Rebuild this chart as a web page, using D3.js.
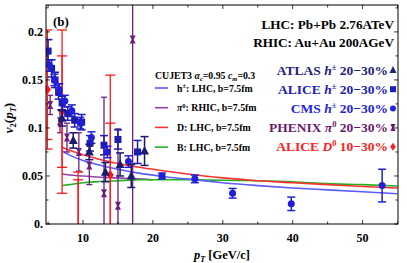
<!DOCTYPE html>
<html>
<head>
<meta charset="utf-8">
<script src="https://cdn.jsdelivr.net/npm/d3@7"></script>
<style>
  body { margin: 0; background: #fff; }
  text { font-family: "Liberation Serif", "DejaVu Serif", serif; font-weight: bold; }
</style>
</head>
<body>
<div id="chart"></div>
<script>
// ---- data ----
const curvePt = [7, 8, 10, 12, 15, 18, 22, 26, 30, 35, 40, 45, 50, 55];
const hLHC  = [0.076, 0.072, 0.066, 0.062, 0.057, 0.053, 0.049, 0.046, 0.043, 0.040, 0.0375, 0.0355, 0.0335, 0.0315];
const dLHC  = [0.080, 0.077, 0.072, 0.068, 0.063, 0.059, 0.055, 0.051, 0.048, 0.045, 0.043, 0.041, 0.039, 0.0375];
const bLHC  = [0.040, 0.041, 0.043, 0.044, 0.045, 0.046, 0.046, 0.046, 0.0455, 0.045, 0.044, 0.042, 0.041, 0.0395];
const piPt  = [7, 8, 10, 12, 15, 18, 20];
const piRHIC = [0.052, 0.051, 0.050, 0.049, 0.048, 0.047, 0.046];

const alicePt  = [5.0, 5.5, 6.0, 6.5, 7.0, 7.8, 8.8, 9.8, 11.0, 13.0, 15.0, 17.8];
const aliceV2  = [0.18, 0.162, 0.15, 0.138, 0.126, 0.115, 0.108, 0.106, 0.084, 0.082, 0.088, 0.075];
const aliceErr = [0.012, 0.009, 0.008, 0.008, 0.007, 0.007, 0.007, 0.008, 0.008, 0.010, 0.010, 0.012];

const cmsPt  = [5.2, 5.9, 6.6, 7.4, 8.4, 9.6, 11.2, 13.5, 16.5, 21.3, 26.0, 31.4, 39.8, 52.8];
const cmsV2  = [0.165, 0.15, 0.14, 0.128, 0.118, 0.105, 0.09, 0.075, 0.065, 0.05, 0.047, 0.032, 0.021, 0.040];
const cmsErr = [0.006, 0.006, 0.006, 0.006, 0.006, 0.006, 0.006, 0.006, 0.006, 0.003, 0.004, 0.005, 0.007, 0.017];

const atlasPt  = [7.0, 8.6, 10.9, 13.2, 15.3, 16.9, 18.8];
const atlasV2  = [0.11, 0.087, 0.075, 0.054, 0.062, 0.05, 0.076];
const atlasErr = [0.008, 0.008, 0.008, 0.010, 0.012, 0.012, 0.015];

const phenixPt  = [5.3, 6.7, 7.7, 9.4, 10.9, 13.0, 15.0, 17.1];
const phenixV2  = [0.124, 0.107, 0.09, 0.075, 0.061, 0.032, 0.019, 0.192];
const phenixErr = [0.010, 0.012, 0.015, 0.020, 0.020, 0.10, 0.08, 0.25];

const d0Pt   = [4.9, 7.0, 9.3, 13.9];
const d0V2   = [0.14, 0.117, -0.01, 0.051];
const d0Stat = [0.052, 0.058, 0.056, 0.054];
const d0Sys  = [0.062, 0.085, 0.064, 0.104];

const xTicks = [10, 20, 30, 40, 50];
const yTicks = [0, 0.05, 0.1, 0.15, 0.2];
const yTickLabels = ["0.", "0.05", "0.1", "0.15", "0.2"];

// ---- layout ----
const W = 407, H = 263;
const L = 46, R = 398, T = 5, B = 224;

const svg = d3.select("#chart").append("svg")
    .attr("width", W).attr("height", H);

const x = d3.scaleLinear().domain([4.7, 55.07]).range([L, R]);
const y = d3.scaleLinear().domain([0, 0.228]).range([B, T]);

svg.append("clipPath").attr("id", "plotclip")
    .append("rect").attr("x", L).attr("y", T).attr("width", R - L).attr("height", B - T);

const plot = svg.append("g").attr("clip-path", "url(#plotclip)");

// ticks (inside, on all four sides)
const xMinor = d3.range(5, 56, 5);
const yMinor = d3.range(0, 0.23, 0.025);
const tickG = svg.append("g").attr("stroke", "#000").attr("stroke-width", 0.8);
xMinor.forEach(v => {
    const len = (v % 10 === 0) ? 4 : 2.5;
    tickG.append("line").attr("x1", x(v)).attr("x2", x(v)).attr("y1", B).attr("y2", B - len);
    tickG.append("line").attr("x1", x(v)).attr("x2", x(v)).attr("y1", T).attr("y2", T + len);
});
yMinor.forEach((v, i) => {
    const len = (i % 2 === 0) ? 4 : 2.5;
    tickG.append("line").attr("y1", y(v)).attr("y2", y(v)).attr("x1", L).attr("x2", L + len);
    tickG.append("line").attr("y1", y(v)).attr("y2", y(v)).attr("x1", R).attr("x2", R - len);
});

// curves
const line = d3.line().x(d => x(d[0])).y(d => y(d[1])).curve(d3.curveMonotoneX);
function drawCurve(pts, vals, color) {
    plot.append("path")
        .datum(pts.map((p, i) => [p, vals[i]]))
        .attr("d", line)
        .attr("fill", "none")
        .attr("stroke", color)
        .attr("stroke-width", 1.6);
}
drawCurve(piPt, piRHIC, "#9a3fa8");
drawCurve(curvePt, bLHC, "#22b022");
drawCurve(curvePt, dLHC, "#ff3030");
drawCurve(curvePt, hLHC, "#5b5bff");

// error bars with caps
function errBar(g, px, lo, hi, cap, color, w) {
    const cx = x(px);
    g.append("line").attr("x1", cx).attr("x2", cx).attr("y1", y(lo)).attr("y2", y(hi))
        .attr("stroke", color).attr("stroke-width", w);
    [lo, hi].forEach(v => {
        g.append("line").attr("x1", cx - cap).attr("x2", cx + cap).attr("y1", y(v)).attr("y2", y(v))
            .attr("stroke", color).attr("stroke-width", w);
    });
}

const purple = "#6e1f7e", red = "#ff1a1a";
const navy = "#1a1a70", aliceBlue = "#1c1cb0", cmsBlue = "#2020d8";

// PHENIX pi0
phenixPt.forEach((p, i) => {
    errBar(plot, p, phenixV2[i] - phenixErr[i], phenixV2[i] + phenixErr[i], 3, purple, 1.3);
});
const bowtie = "M-3,-4L3,-4L1,0L3,4L-3,4L-1,0Z";
plot.selectAll(".phx").data(phenixPt).enter().append("path")
    .attr("d", bowtie)
    .attr("transform", (d, i) => `translate(${x(d)},${y(phenixV2[i])})`)
    .attr("fill", purple);

// D0
d0Pt.forEach((p, i) => {
    errBar(plot, p, d0V2[i] - d0Sys[i], d0V2[i] + d0Sys[i], 5, red, 1.3);
    errBar(plot, p, d0V2[i] - d0Stat[i], d0V2[i] + d0Stat[i], 5, red, 1.3);
});
plot.selectAll(".d0").data(d0Pt).enter().append("path")
    .attr("d", "M0,-5L3.5,0L0,5L-3.5,0Z")
    .attr("transform", (d, i) => `translate(${x(d)},${y(d0V2[i])})`)
    .attr("fill", red);

// ALICE squares
alicePt.forEach((p, i) => {
    errBar(plot, p, aliceV2[i] - aliceErr[i], aliceV2[i] + aliceErr[i], 4, aliceBlue, 1.5);
});
plot.selectAll(".al").data(alicePt).enter().append("rect")
    .attr("x", d => x(d) - 3.5).attr("y", (d, i) => y(aliceV2[i]) - 3.5)
    .attr("width", 7).attr("height", 7).attr("fill", aliceBlue);

// CMS circles
cmsPt.forEach((p, i) => {
    errBar(plot, p, cmsV2[i] - cmsErr[i], cmsV2[i] + cmsErr[i], 4, cmsBlue, 1.5);
});
plot.selectAll(".cms").data(cmsPt).enter().append("circle")
    .attr("cx", d => x(d)).attr("cy", (d, i) => y(cmsV2[i]))
    .attr("r", 3.5).attr("fill", cmsBlue);

// ATLAS triangles
atlasPt.forEach((p, i) => {
    errBar(plot, p, atlasV2[i] - atlasErr[i], atlasV2[i] + atlasErr[i], 4, navy, 1.5);
});
plot.selectAll(".atl").data(atlasPt).enter().append("path")
    .attr("d", "M0,-5L4.5,3.5L-4.5,3.5Z")
    .attr("transform", (d, i) => `translate(${x(d)},${y(atlasV2[i])})`)
    .attr("fill", navy);

// frame
svg.append("rect").attr("x", L).attr("y", T).attr("width", R - L).attr("height", B - T)
    .attr("fill", "none").attr("stroke", "#000").attr("stroke-width", 1);

// tick labels
svg.selectAll(".xl").data(xTicks).enter().append("text")
    .attr("x", d => x(d)).attr("y", 242)
    .attr("text-anchor", "middle").attr("font-size", 12).text(d => d);
svg.selectAll(".yl").data(yTicks).enter().append("text")
    .attr("x", 43).attr("y", d => y(d) + 4)
    .attr("text-anchor", "end").attr("font-size", 12).text((d, i) => yTickLabels[i]);

// axis titles
const xt = svg.append("text").attr("x", 222).attr("y", 259).attr("text-anchor", "middle").attr("font-size", 12.5);
xt.append("tspan").attr("font-style", "italic").text("p");
xt.append("tspan").attr("font-style", "italic").attr("font-size", 8).attr("dy", 3).text("T");
xt.append("tspan").attr("dy", -3).text(" [GeV/c]");

const yt = svg.append("text").attr("transform", "translate(13,118) rotate(-90)")
    .attr("text-anchor", "middle").attr("font-size", 13).attr("font-weight", "normal");
yt.append("tspan").attr("font-style", "italic").text("v");
yt.append("tspan").attr("font-size", 8.5).attr("dy", 3).text("2");
yt.append("tspan").attr("dy", -3).text("(");
yt.append("tspan").attr("font-style", "italic").text("p");
yt.append("tspan").attr("font-style", "italic").attr("font-size", 8.5).attr("dy", 3).text("T");
yt.append("tspan").attr("dy", -3).text(")");

// panel label + header
svg.append("text").attr("x", 53).attr("y", 26).attr("font-size", 13).text("(b)");
svg.append("text").attr("x", 394).attr("y", 29).attr("text-anchor", "end").attr("font-size", 13.2)
    .text("LHC: Pb+Pb 2.76ATeV");
svg.append("text").attr("x", 394).attr("y", 47).attr("text-anchor", "end").attr("font-size", 13.2)
    .text("RHIC: Au+Au 200AGeV");

// model legend
const cj = svg.append("text").attr("x", 155).attr("y", 79).attr("font-size", 9.8);
cj.append("tspan").text("CUJET3 ");
cj.append("tspan").attr("font-style", "italic").text("α");
cj.append("tspan").attr("font-style", "italic").attr("font-size", 6.5).attr("dy", 2).text("c");
cj.append("tspan").attr("dy", -2).text("=0.95 ");
cj.append("tspan").attr("font-style", "italic").text("c");
cj.append("tspan").attr("font-style", "italic").attr("font-size", 6.5).attr("dy", 2).text("m");
cj.append("tspan").attr("dy", -2).text("=0.3");

const modelLegend = [
    { color: "#5b5bff", a: "h", sup: "±", rest: ": LHC, b=7.5fm", it: false },
    { color: "#9a3fa8", a: "π", sup: "0", rest: ": RHIC, b=7.5fm", it: true },
    { color: "#ff3030", a: "D", sup: "", rest: ": LHC, b=7.5fm", it: false },
    { color: "#22b022", a: "B", sup: "", rest: ": LHC, b=7.5fm", it: false }
];
modelLegend.forEach((m, i) => {
    const yy = 88 + i * 19.7;
    svg.append("line").attr("x1", 155).attr("x2", 168).attr("y1", yy).attr("y2", yy)
        .attr("stroke", m.color).attr("stroke-width", 1.6);
    const t = svg.append("text").attr("x", 177).attr("y", yy + 3.5).attr("font-size", 9.8);
    t.append("tspan").attr("font-style", m.it ? "italic" : "normal").text(m.a);
    if (m.sup) t.append("tspan").attr("font-size", 6.5).attr("dy", -3.5).text(m.sup);
    t.append("tspan").attr("dy", m.sup ? 3.5 : 0).text(m.rest);
});

// data legend
const dataLegend = [
    { color: "#22227a", name: "ATLAS ", a: "h", sup: "±", rest: " 20−30%", mark: "tri" },
    { color: "#1c1cb8", name: "ALICE ", a: "h", sup: "±", rest: " 20−30%", mark: "sq" },
    { color: "#2323e6", name: "CMS ", a: "h", sup: "±", rest: " 20−30%", mark: "circ" },
    { color: "#6a1a70", name: "PHENIX ", a: "π", sup: "0", rest: " 20−30%", mark: "bow" },
    { color: "#ff2020", name: "ALICE ", a: "D", sup: "0", rest: " 10−30%", mark: "dia" }
];
dataLegend.forEach((m, i) => {
    const yy = 70 + i * 19.2;
    const t = svg.append("text").attr("x", 388).attr("y", yy + 4.5).attr("text-anchor", "end")
        .attr("font-size", 13.5).attr("fill", m.color);
    t.append("tspan").text(m.name);
    t.append("tspan").attr("font-style", "italic").text(m.a);
    t.append("tspan").attr("font-size", 8.5).attr("dy", -5).text(m.sup);
    t.append("tspan").attr("dy", 5).text(m.rest);
    const g = svg.append("g").attr("transform", `translate(393,${yy})`).attr("fill", m.color);
    if (m.mark === "tri") g.append("path").attr("d", "M0,-4L3.5,3L-3.5,3Z");
    if (m.mark === "sq") g.append("rect").attr("x", -3).attr("y", -3).attr("width", 6).attr("height", 6);
    if (m.mark === "circ") g.append("circle").attr("r", 3);
    if (m.mark === "bow") g.append("path").attr("d", "M-2.5,-3.5L2.5,-3.5L1,0L2.5,3.5L-2.5,3.5L-1,0Z");
    if (m.mark === "dia") g.append("path").attr("d", "M0,-4L2.8,0L0,4L-2.8,0Z");
});
</script>
</body>
</html>
